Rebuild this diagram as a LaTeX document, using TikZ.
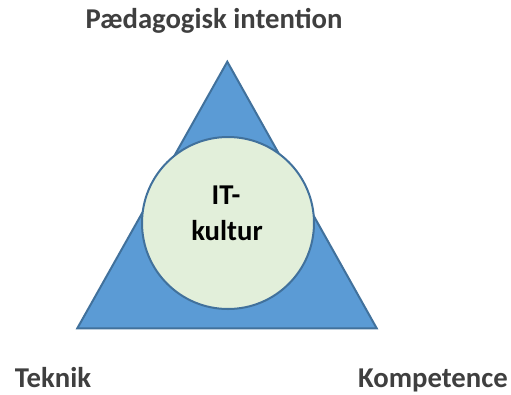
\documentclass[tikz,border=0pt]{standalone}
\usepackage{fontspec}
\setmainfont{Carlito}
\usetikzlibrary{positioning}
\definecolor{triblue}{HTML}{5B9BD5}
\definecolor{edgeblue}{HTML}{41719C}
\definecolor{paleGreen}{HTML}{E2EFDA}
\definecolor{labelgray}{HTML}{3F3F3F}
\tikzset{
  cornerlabel/.style={anchor=base, text=labelgray, font=\fontsize{28.7}{37}\selectfont\bfseries},
  centerlabel/.style={anchor=base, text=black, font=\fontsize{28.7}{37}\selectfont\bfseries}
}

\begin{document}
\begin{tikzpicture}[x=1pt,y=-1pt]
            \useasboundingbox (0,0) rectangle (511,394);

            \draw[edgeblue, line width=2pt, fill=triblue, line join=miter] (227.3,61.7) -- (77.3,328.3) -- (376.7,328.3) -- cycle;
            \node[circle, draw=edgeblue, line width=2pt, fill=paleGreen, minimum size=172pt, inner sep=0pt] (ring) at (228,223) {};

            \node[centerlabel] (it) at (226,204) {IT-};
            \node[centerlabel] (kult) at (227,240) {kultur};

            \node[cornerlabel] (intention) at (214,28) {Pædagogisk intention};
            \node[cornerlabel] (teknik) at (53,387) {Teknik};
            \node[cornerlabel] (kompetence) at (433,387) {Kompetence};
        \end{tikzpicture}
\end{document}
